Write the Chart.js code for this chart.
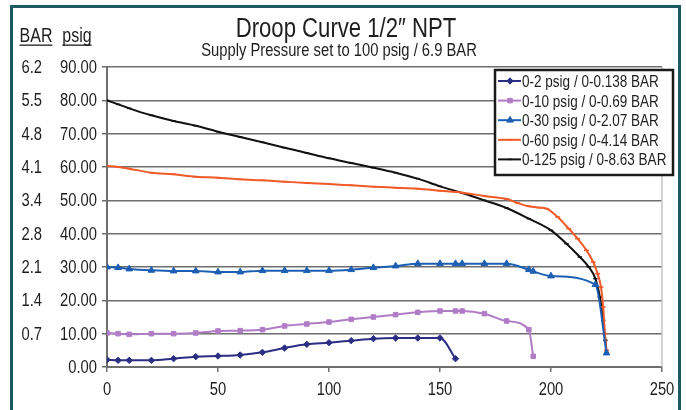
<!DOCTYPE html>
<html>
<head>
<meta charset="utf-8">
<script src="https://cdn.jsdelivr.net/npm/chart.js@4.4.1/dist/chart.umd.min.js"></script>
<style>
  html, body { margin: 0; padding: 0; background: #fff; }
  #wrap { position: relative; width: 686px; height: 410px; overflow: hidden; }
  #frame { position: absolute; left: 10px; top: 5px; width: 671px; height: 430px;
           border: 3px solid #1d5a62; box-sizing: border-box; pointer-events: none; }
</style>
</head>
<body>
<div id="wrap">
  <canvas id="droop" width="686" height="410"></canvas>
  <div id="frame"></div>
</div>
<script>
// flow values (x) and outlet pressure in psig (y)
const seriesLabels = ['0-2 psig / 0-0.138 BAR', '0-10 psig / 0-0.69 BAR', '0-30 psig / 0-2.07 BAR',
  '0-60 psig / 0-4.14 BAR', '0-125 psig / 0-8.63 BAR'];

const flow2 = [0, 5, 10, 20, 30, 40, 50, 60, 70, 80, 90, 100, 110, 120, 130, 140, 150, 157];
const psig2 = [2.2, 2.0, 2.0, 2.0, 2.5, 3.1, 3.3, 3.6, 4.4, 5.7, 6.8, 7.3, 7.9, 8.5, 8.7, 8.7, 8.7, 2.5];

const flow10 = [0, 5, 10, 20, 30, 40, 50, 60, 70, 80, 90, 100, 110, 120, 130, 140, 150, 157, 160, 170, 180, 190, 192];
const psig10 = [10.2, 10.0, 9.8, 10.0, 10.0, 10.2, 10.8, 10.9, 11.2, 12.3, 12.9, 13.5, 14.3, 15.0, 15.7, 16.4, 16.8, 16.8, 16.8, 16.0, 13.8, 11.2, 3.2];

const flow30 = [0, 5, 10, 20, 30, 40, 50, 60, 70, 80, 90, 100, 110, 120, 130, 140, 150, 157, 160, 170, 180, 190, 192, 200, 220, 225];
const psig30 = [30.0, 29.8, 29.4, 29.0, 28.8, 28.8, 28.5, 28.5, 28.9, 28.9, 28.9, 28.9, 29.2, 29.8, 30.3, 31.0, 31.0, 31.0, 31.0, 31.0, 31.0, 29.2, 28.7, 27.3, 24.7, 4.2];

const flow60 = [0, 5, 10, 20, 30, 40, 50, 60, 70, 80, 90, 100, 110, 120, 130, 140, 150, 160, 170, 180, 185, 190, 195, 198, 203, 208, 212, 216, 219, 221, 222.5, 223.5, 224.3, 225];
const psig60 = [60.3, 60.0, 59.5, 58.3, 57.8, 57.1, 56.8, 56.3, 56.0, 55.6, 55.2, 54.9, 54.5, 54.1, 53.8, 53.5, 52.9, 52.3, 51.3, 50.4, 49.2, 48.2, 47.8, 47.5, 45.0, 41.5, 38.5, 35.0, 31.5, 28.0, 24.0, 18.0, 10.0, 5.0];

const flow125 = [0, 5, 10, 20, 30, 40, 50, 60, 70, 80, 90, 100, 110, 120, 130, 140, 150, 160, 170, 180, 190, 200, 207, 213, 217, 220, 222, 223.5, 224.5, 225];
const psig125 = [80.0, 78.8, 77.6, 75.5, 73.8, 72.4, 70.6, 69.0, 67.4, 65.8, 64.2, 62.6, 61.2, 59.8, 58.3, 56.5, 54.2, 52.2, 50.0, 47.7, 44.5, 41.0, 37.0, 33.0, 30.0, 26.5, 21.0, 14.0, 8.0, 4.3];

const barTicks = ['', '0.7', '1.4', '2.1', '2.8', '3.4', '4.1', '4.8', '5.5', '6.2'];

const FAMILY = '"Liberation Sans", Arial, sans-serif';
const SQUEEZE = 0.82;   // fake the narrow face of the original
const TEXT = '#1e1e1e';
const GRID = '#6e6e6e';

// condensed text: squeeze horizontally around the anchor
function narrowText(ctx, t, x, y, size, align, baseline) {
  ctx.save();
  ctx.font = size + 'px ' + FAMILY;
  const w = ctx.measureText(t).width * SQUEEZE;
  const sx = align === 'center' ? x - w / 2 : (align === 'right' ? x - w : x);
  ctx.translate(sx, y);
  ctx.scale(SQUEEZE, 1);
  ctx.textAlign = 'left';
  ctx.textBaseline = baseline || 'alphabetic';
  ctx.fillText(t, 0, 0);
  ctx.restore();
  return w;
}

function pts(xs, ys) { return xs.map((x, i) => ({ x: x, y: ys[i] })); }

function series(label, xs, ys, color, style, radius) {
  return {
    label: label,
    data: pts(xs, ys),
    borderColor: color,
    backgroundColor: color,
    borderWidth: 2,
    pointStyle: style,
    pointRadius: radius,
    pointBorderWidth: style === 'line' ? 1.5 : 1,
    pointBackgroundColor: color,
    pointBorderColor: color,
    cubicInterpolationMode: 'monotone',
    fill: false
  };
}

const datasets = [
  series(seriesLabels[0], flow2, psig2, '#2b2e83', 'rectRot', 3.2),
  series(seriesLabels[1], flow10, psig10, '#b07cc6', 'rect', 3.2),
  series(seriesLabels[2], flow30, psig30, '#1d5fb4', 'triangle', 3.8),
  series(seriesLabels[3], flow60, psig60, '#f05a28', 'line', 2.5),
  series(seriesLabels[4], flow125, psig125, '#111111', 'line', 2.2)
];

const decor = {
  id: 'decor',
  afterDraw(chart) {
    const ctx = chart.ctx;
    const area = chart.chartArea;
    const xs = chart.scales.x, ys = chart.scales.y;
    ctx.save();

    // light right border of plot area
    ctx.strokeStyle = '#c4c4c4';
    ctx.lineWidth = 1.5;
    ctx.beginPath();
    ctx.moveTo(area.right, area.top);
    ctx.lineTo(area.right, area.bottom);
    ctx.stroke();

    ctx.fillStyle = TEXT;

    // tick labels: psig next to the axis, BAR further out
    ys.ticks.forEach((tk, i) => {
      const py = ys.getPixelForValue(tk.value) + 6;
      narrowText(ctx, tk.value.toFixed(2), area.left - 10, py, 18, 'right');
      if (barTicks[i]) narrowText(ctx, barTicks[i], 42, py, 18, 'right');
    });
    xs.ticks.forEach(tk => {
      narrowText(ctx, String(tk.value), xs.getPixelForValue(tk.value), area.bottom + 28, 18, 'center');
    });

    // titles
    narrowText(ctx, 'Droop Curve 1/2\u2033 NPT', 346, 37, 27, 'center');
    narrowText(ctx, 'Supply Pressure set to 100 psig / 6.9 BAR', 339, 56, 18, 'center');

    // axis unit headers, underlined
    [['BAR', 36], ['psig', 77]].forEach(([t, cx]) => {
      const w = narrowText(ctx, t, cx, 42, 19.5, 'center');
      ctx.fillRect(cx - w / 2, 44.5, w, 1.3);
    });

    // legend box
    const lx = 495, ly = 70, lw = 178, lh = 105, row = 19.6;
    ctx.fillStyle = '#fff';
    ctx.fillRect(lx, ly, lw, lh);
    ctx.strokeStyle = '#1a1a1a';
    ctx.lineWidth = 2.5;
    ctx.strokeRect(lx, ly, lw, lh);
    chart.data.datasets.forEach((ds, i) => {
      const y = ly + 11 + i * row;
      ctx.strokeStyle = ds.borderColor;
      ctx.lineWidth = 2;
      ctx.beginPath();
      ctx.moveTo(lx + 3, y);
      ctx.lineTo(lx + 26, y);
      ctx.stroke();
      ctx.fillStyle = ds.pointBackgroundColor;
      ctx.lineWidth = ds.pointBorderWidth;
      Chart.helpers.drawPoint(ctx, { pointStyle: ds.pointStyle, radius: ds.pointRadius,
        borderWidth: ds.pointBorderWidth, rotation: 0 }, lx + 15, y);
      ctx.fillStyle = TEXT;
      narrowText(ctx, ds.label, lx + 27, y + 6, 16.5, 'left');
    });
    ctx.restore();
  }
};

new Chart(document.getElementById('droop').getContext('2d'), {
  type: 'line',
  data: { datasets: datasets },
  options: {
    responsive: false,
    animation: false,
    layout: { padding: { left: 44, right: 24, top: 67, bottom: 0 } },
    plugins: { legend: { display: false }, title: { display: false }, tooltip: { enabled: false } },
    scales: {
      x: {
        type: 'linear', min: 0, max: 250,
        ticks: { stepSize: 50, display: false },
        grid: { drawOnChartArea: false, drawTicks: true, tickLength: 5, color: GRID, lineWidth: 1.5 },
        border: { color: GRID, width: 2 },
        afterFit(s) { s.height = 43; }
      },
      y: {
        position: 'left', min: 0, max: 90,
        ticks: { stepSize: 10, display: false },
        grid: { color: GRID, lineWidth: 1.5, tickLength: 5 },
        border: { color: GRID, width: 2 },
        afterFit(s) { s.width = 63; }
      }
    }
  },
  plugins: [decor]
});
</script>
</body>
</html>
